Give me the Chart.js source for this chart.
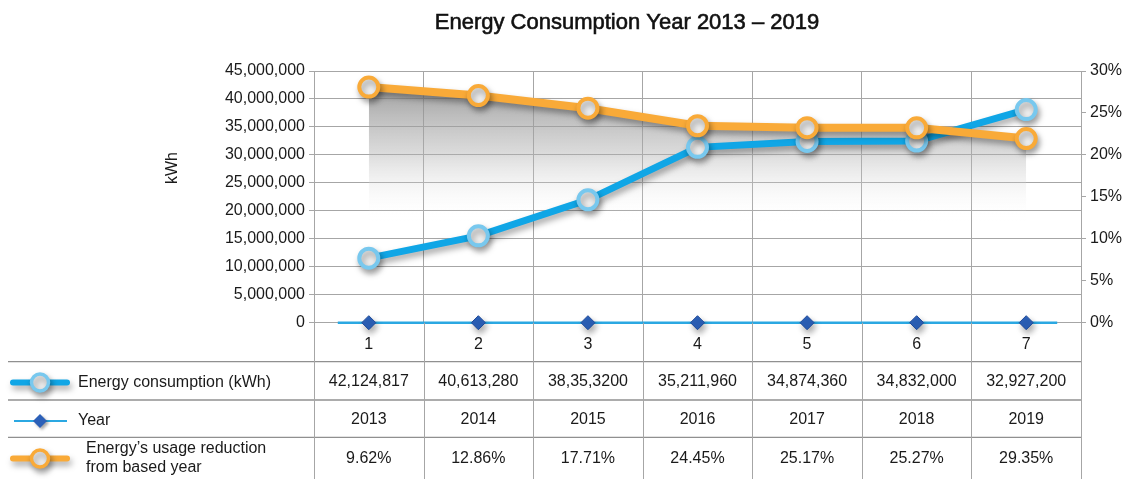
<!DOCTYPE html>
<html><head><meta charset="utf-8">
<script src="https://cdn.jsdelivr.net/npm/chart.js"></script>
<style>html,body{margin:0;padding:0;background:#fff}canvas{display:block}</style>
</head><body>
<canvas id="c" width="1133" height="479"></canvas>
<script>
const categories = ['1','2','3','4','5','6','7'];
const years = [2013, 2014, 2015, 2016, 2017, 2018, 2019];
const consumption = [42124817, 40613280, 38353200, 35211960, 34874360, 34832000, 32927200];
const consumptionLabels = ['42,124,817','40,613,280','38,35,3200','35,211,960','34,874,360','34,832,000','32,927,200'];
const reduction = [9.62, 12.86, 17.71, 24.45, 25.17, 25.27, 29.35];
// blue line as it is plotted in the picture (read on the right % axis)
const blueLine = [7.69, 10.35, 14.65, 20.9, 21.6, 21.65, 25.4];
const leftAxis = {min: 0, max: 45000000, step: 5000000};
const rightAxis = {min: 0, max: 30, step: 5};
const titleText = 'Energy Consumption Year 2013 – 2019';
const rowLabels = ['Energy consumption (kWh)', 'Year', ['Energy’s usage reduction', 'from based year']];

const FONT = "'Liberation Sans', Arial, Helvetica, sans-serif";
const ORANGE = '#f9aa38', BLUE = '#10a6e6', BLUE_LIGHT = '#78c8ee', THIN_BLUE = '#2ba8e2';
const DIAMOND = '#2c60b8', GRID = '#a6a6a6', TEXT = '#1a1a1a';

Chart.defaults.font.family = FONT;
Chart.defaults.font.size = 16;
Chart.defaults.color = TEXT;

function shadowOn(c){ c.shadowColor='rgba(0,0,0,0.35)'; c.shadowBlur=6; c.shadowOffsetX=2; c.shadowOffsetY=4; }

const decor = {
  id: 'decor',
  beforeDatasetsDraw(chart){
    const {ctx, scales:{x, y}} = chart;
    const y0 = y.getPixelForValue(0);
    ctx.save();
    ctx.strokeStyle = THIN_BLUE; ctx.lineWidth = 2.5;
    ctx.beginPath();
    ctx.moveTo(x.getPixelForValue(0) - 31, y0);
    ctx.lineTo(x.getPixelForValue(categories.length - 1) + 31, y0);
    ctx.stroke();
    ctx.restore();
  },
  beforeDatasetDraw(chart){ chart.ctx.save(); shadowOn(chart.ctx); },
  afterDatasetDraw(chart){ chart.ctx.restore(); },
  afterDraw(chart){
    const {ctx, scales:{x, y}} = chart;
    const H = chart.height;
    ctx.save();
    // title
    ctx.fillStyle = '#111'; ctx.strokeStyle = '#111'; ctx.lineWidth = 0.6;
    ctx.font = '22px ' + FONT; ctx.textAlign='center'; ctx.textBaseline='middle';
    ctx.fillText(titleText, 627, 23);
    ctx.strokeText(titleText, 627, 23);
    // kWh axis title
    ctx.save(); ctx.translate(173, 168); ctx.rotate(-Math.PI/2);
    ctx.font = '16px ' + FONT; ctx.fillStyle = TEXT; ctx.fillText('kWh', 0, 0); ctx.restore();
    // table lines
    const rowLines = [361.7, 400, 437.3];
    ctx.strokeStyle = '#909090'; ctx.lineWidth = 1.3;
    rowLines.forEach(ry => { ctx.beginPath(); ctx.moveTo(8, ry); ctx.lineTo(x.right, ry); ctx.stroke(); });
    ctx.strokeStyle = GRID; ctx.lineWidth = 1;
    const n = categories.length, cw = (x.right - x.left) / n;
    for (let i = 0; i <= n; i++) {
      const px = Math.round(x.left + i * cw) + 0.5;
      ctx.beginPath(); ctx.moveTo(px, y.bottom); ctx.lineTo(px, H); ctx.stroke();
    }
    // table values
    ctx.fillStyle = TEXT; ctx.font = '16px ' + FONT; ctx.textAlign = 'center'; ctx.textBaseline = 'middle';
    const rowY = [381.5, 419.5, 458.5];
    for (let i = 0; i < n; i++) {
      const px = x.getPixelForValue(i);
      ctx.fillText(consumptionLabels[i], px, rowY[0]);
      ctx.fillText(String(years[i]), px, rowY[1]);
      ctx.fillText(reduction[i].toFixed(2) + '%', px, rowY[2]);
    }
    // legend keys
    function circleKey(cy, lineColor, ringColor){
      ctx.save(); shadowOn(ctx);
      ctx.strokeStyle = lineColor; ctx.lineWidth = 6; ctx.lineCap = 'round';
      ctx.beginPath(); ctx.moveTo(13, cy); ctx.lineTo(67, cy); ctx.stroke();
      ctx.beginPath(); ctx.arc(40, cy, 8.5, 0, Math.PI*2);
      ctx.fillStyle = '#efefef'; ctx.fill();
      ctx.lineWidth = 3.5; ctx.strokeStyle = ringColor; ctx.stroke();
      ctx.restore();
    }
    circleKey(382.5, BLUE, BLUE_LIGHT);
    circleKey(458.5, ORANGE, ORANGE);
    ctx.save();
    ctx.strokeStyle = THIN_BLUE; ctx.lineWidth = 2;
    ctx.beginPath(); ctx.moveTo(14, 421); ctx.lineTo(67, 421); ctx.stroke();
    shadowOn(ctx); ctx.shadowBlur = 3; ctx.shadowOffsetY = 2;
    ctx.beginPath(); ctx.moveTo(40, 414); ctx.lineTo(47, 421); ctx.lineTo(40, 428); ctx.lineTo(33, 421); ctx.closePath();
    ctx.fillStyle = DIAMOND; ctx.fill();
    ctx.restore();
    ctx.textAlign = 'left'; ctx.fillStyle = TEXT;
    ctx.fillText(rowLabels[0], 78, 382.5);
    ctx.fillText(rowLabels[1], 78, 420.5);
    ctx.fillText(rowLabels[2][0], 86, 449);
    ctx.fillText(rowLabels[2][1], 86, 468);
    ctx.restore();
  }
};

function areaGradient(context){
  const chart = context.chart, area = chart.chartArea;
  if (!area) return 'rgba(0,0,0,0)';
  const g = chart.ctx.createLinearGradient(0, area.top + 15, 0, area.top + 150);
  g.addColorStop(0, 'rgba(135,135,135,0.8)');
  g.addColorStop(0.5, 'rgba(175,175,175,0.45)');
  g.addColorStop(1, 'rgba(255,255,255,0)');
  return g;
}

new Chart(document.getElementById('c'), {
  type: 'line',
  data: {
    labels: categories,
    datasets: [
      { label: rowLabels[0], data: consumption, yAxisID: 'y', order: 0, clip: false,
        borderColor: ORANGE, borderWidth: 8, tension: 0,
        pointRadius: 9.5, pointBorderWidth: 4, pointBackgroundColor: '#efefef', pointBorderColor: ORANGE,
        fill: 'origin', backgroundColor: areaGradient },
      { label: rowLabels[2].join(' '), data: blueLine, yAxisID: 'y1', order: 1, clip: false,
        borderColor: BLUE, borderWidth: 7, tension: 0,
        pointRadius: 9.5, pointBorderWidth: 4, pointBackgroundColor: '#efefef', pointBorderColor: BLUE_LIGHT,
        fill: false },
      { label: rowLabels[1], data: years, yAxisID: 'y', order: 2, clip: false, showLine: false,
        pointStyle: 'rectRot', pointRadius: 7, pointBackgroundColor: DIAMOND, pointBorderColor: '#1f4a98', pointBorderWidth: 1,
        fill: false }
    ]
  },
  options: {
    responsive: false, animation: false,
    layout: {padding: {top: 71, left: 0, right: 0, bottom: 0}},
    plugins: {legend: {display: false}, tooltip: {enabled: false}, title: {display: false},
      filler: {drawTime: 'beforeDatasetsDraw'}},
    scales: {
      x: { offset: true, grid: {offset: true, color: GRID, drawTicks: false}, border: {display: false},
           ticks: {padding: 12, color: TEXT, font: {size: 16}},
           afterFit(s){ s.height = 156.3; } },
      y: { position: 'left', min: leftAxis.min, max: leftAxis.max,
           ticks: {stepSize: leftAxis.step, padding: 4, color: TEXT, callback: v => v.toLocaleString('en-US')},
           grid: {color: GRID, tickLength: 5}, border: {color: GRID},
           afterFit(s){ s.width = 314; } },
      y1: { position: 'right', min: rightAxis.min, max: rightAxis.max,
           ticks: {stepSize: rightAxis.step, padding: 4, color: TEXT, callback: v => v + '%'},
           grid: {drawOnChartArea: false, color: GRID, tickLength: 5}, border: {color: GRID},
           afterFit(s){ s.width = 52; } }
    }
  },
  plugins: [decor]
});
</script>
</body></html>
